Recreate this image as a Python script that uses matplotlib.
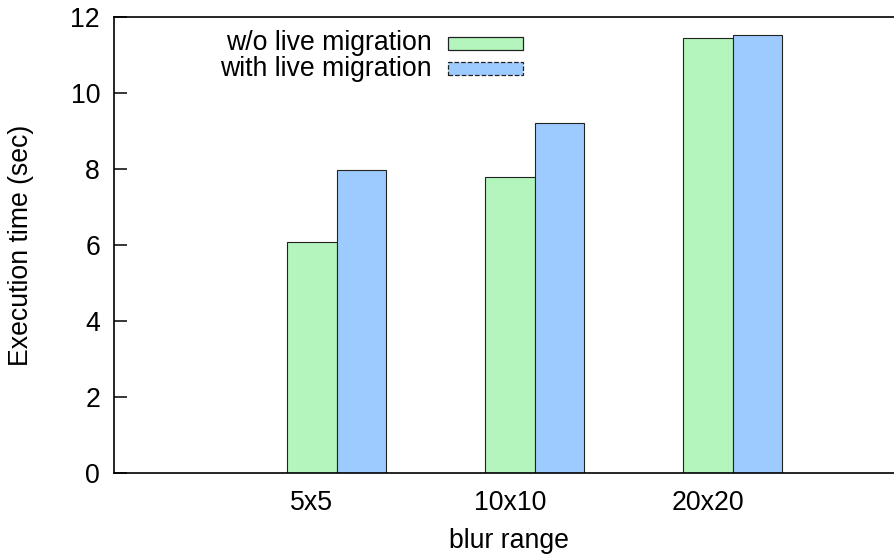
import matplotlib
matplotlib.use("Agg")
import matplotlib.pyplot as plt
import matplotlib.patches as mpatches
import numpy as np

categories = ["5x5", "10x10", "20x20"]
without_mig = [6.08, 7.80, 11.45]
with_mig = [7.97, 9.20, 11.52]
series_labels = ["w/o live migration", "with live migration"]
yticks = [0, 2, 4, 6, 8, 10, 12]

green = "#b3f5bc"
blue = "#9ecbff"

plt.rcParams['font.family'] = ['Liberation Sans', 'DejaVu Sans']
fs = 19.2

W, H = 894, 554
fig = plt.figure(figsize=(W/100, H/100), dpi=100)
ax = fig.add_axes([114/W, 81/H, 780/W, 456/H])

x = np.arange(len(categories))
w = 0.25
ax.bar(x, without_mig, width=w, color=green, edgecolor="#222222", linewidth=0.8)
ax.bar(x + w, with_mig, width=w, color=blue, edgecolor="#222222", linewidth=0.8)

ax.set_xlim(-1.0, 2.94)
ax.set_ylim(0, 12)
ax.set_yticks(yticks)
ax.set_xticks(x)
ax.set_xticklabels(categories)
ax.tick_params(axis='y', direction='in', length=9, width=1.1, pad=10, labelsize=fs)
ax.tick_params(axis='x', length=0, pad=12, labelsize=fs)
ax.spines['right'].set_visible(False)
for s in ['left', 'top', 'bottom']:
    ax.spines[s].set_linewidth(1.2)

ax.set_xlabel("blur range", fontsize=fs)
ax.xaxis.set_label_coords((509-114)/780, -(528-473)/456)
ax.set_ylabel("Execution time (sec)", fontsize=fs)
ax.yaxis.set_label_coords(-(114-34)/780, 0.5)

# legend drawn manually (text right-aligned, swatch to the right)
def fx(px):
    return px / W

def fy(py):
    return 1 - py / H

row_centers = [43, 69]
edge_styles = ['-', '--']
colors = [green, blue]
for lab, yc, col, ls in zip(series_labels, row_centers, colors, edge_styles):
    fig.text(fx(432), fy(yc), lab, ha='right', va='center', fontsize=fs)
    fig.patches.append(mpatches.Rectangle((fx(448), fy(yc + 6.5)), fx(75), 13 / H,
                                          transform=fig.transFigure, facecolor=col,
                                          edgecolor="#222222", linewidth=0.9, linestyle=ls))

fig.savefig("out.png", dpi=100)
